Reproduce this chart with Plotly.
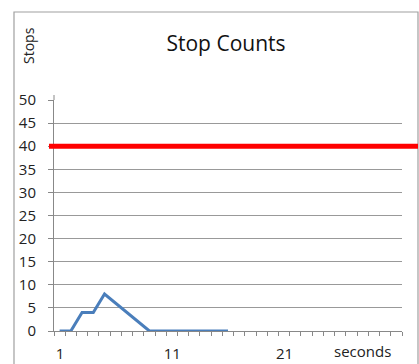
import plotly.graph_objects as go

seconds = list(range(1, 17))
stops = [0, 0, 4, 4, 8, 6, 4, 2, 0, 0, 0, 0, 0, 0, 0, 0]
x_tick_labels = [1, 11, 21]
n_categories = 31
threshold = 40

W, H = 419, 364
L, R, T, B = 54, 17, 100, 33
pw = W - L - R
ph = H - T - B

def px(xp):
    return (xp - L) / pw

def py(yp):
    return (H - B - yp) / ph

# category boundary ticks (Excel style: ticks between categories)
tick_pos = [i + 0.5 for i in range(0, n_categories + 1)]
tick_txt = [str(int(p + 0.5)) if int(p + 0.5) in x_tick_labels else "" for p in tick_pos]

fig = go.Figure()
fig.add_trace(go.Scatter(x=seconds, y=stops, mode="lines",
                         line=dict(color="#4a7ebb", width=3), showlegend=False))

fig.add_shape(type="rect", xref="paper", yref="paper",
              x0=px(14), x1=px(418), y0=py(380), y1=py(12),
              line=dict(color="#a0a0a0", width=1.2), layer="below")
fig.add_shape(type="line", xref="paper", yref="paper",
              x0=0, x1=0, y0=1, y1=py(95),
              line=dict(color="#888", width=1))
fig.add_shape(type="line", xref="paper", yref="y",
              x0=px(49), x1=px(418), y0=threshold, y1=threshold,
              line=dict(color="#ff0000", width=5))

fig.add_annotation(text="Stops", xref="paper", yref="paper", x=px(29), y=py(46),
                   xanchor="center", yanchor="middle",
                   textangle=-90, showarrow=False, font=dict(size=14, color="#222"))
fig.add_annotation(text="seconds", xref="paper", yref="paper", x=px(362), y=py(351),
                   xanchor="center", yanchor="middle",
                   showarrow=False, font=dict(size=15, color="#222"))

fig.update_layout(
    width=W, height=H, margin=dict(l=L, r=R, t=T, b=B),
    paper_bgcolor="white", plot_bgcolor="white",
    font=dict(family="Open Sans, sans-serif", color="#222", size=15),
    title=dict(text="Stop Counts", x=226 / W, y=1 - 44 / H, xanchor="center",
               yanchor="middle", font=dict(size=21, color="#111")),
    xaxis=dict(range=[0.5, n_categories + 0.5], tickmode="array",
               tickvals=tick_pos, ticktext=tick_txt,
               ticklabelshift=round(pw / n_categories / 2),
               ticks="outside", ticklen=4, tickcolor="#888",
               showgrid=False, zeroline=False, automargin=False,
               showline=True, linecolor="#888", linewidth=1,
               tickfont=dict(size=15), ticklabelstandoff=5),
    yaxis=dict(range=[0, 50], dtick=5, ticks="outside", ticklen=5, tickcolor="#888",
               showgrid=True, gridcolor="#999", gridwidth=1, zeroline=False,
               showline=True, linecolor="#888", linewidth=1, automargin=False,
               tickfont=dict(size=15), ticklabelstandoff=9),
)

fig.write_html("out.html", config={"displayModeBar": False},
               post_script="document.body.style.margin='0';document.body.style.overflow='hidden';")
